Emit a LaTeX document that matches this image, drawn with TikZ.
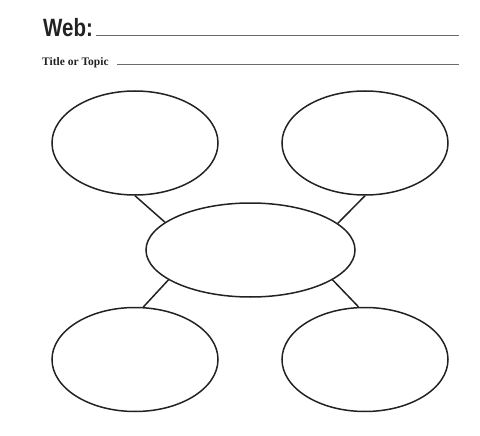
\documentclass[tikz,border=0pt]{standalone}
\usepackage{fontspec}
\setmainfont{Liberation Serif}
\newfontfamily\websans{Liberation Sans}
\usetikzlibrary{shapes.geometric}
\definecolor{ink}{HTML}{222222}
\definecolor{rule}{HTML}{6A6A6A}
\begin{document}
\begin{tikzpicture}[x=1pt,y=-1pt,
  bubble/.style={ellipse,draw=ink,line width=1.5pt,inner sep=0pt,minimum width=166pt,minimum height=104pt},
  hub/.style={ellipse,draw=ink,line width=1.5pt,inner sep=0pt,minimum width=209pt,minimum height=94pt},
  link/.style={draw=ink,line width=1.5pt},
  blank/.style={draw=rule,line width=1.3pt},
  lbl/.style={inner sep=0pt,anchor=base west,text=ink}]
\useasboundingbox (0,0) rectangle (480,436);
\node[lbl] (web) at (43,37) {\scalebox{0.82}[1]{\websans\fontsize{25}{25}\selectfont\bfseries Web:}};
\coordinate (webend) at (459,35.7);
\draw[blank] (web.base east) ++(3,-1.3) coordinate (webstart) -- (webend);
\node[lbl] (title) at (42,66) {\fontsize{11.5}{12}\selectfont\bfseries Title or Topic};
\coordinate (titleend) at (459,64.5);
\coordinate (titlestart) at (117,64.5);
\draw[blank] (titlestart) -- (titleend);
\node[bubble] (tl) at (135,143) {};
\node[bubble] (tr) at (365,143) {};
\node[bubble] (bl) at (135,359.5) {};
\node[bubble] (br) at (365,359.5) {};
\node[hub] (c) at (250.5,250) {};
\draw[link] (tl.south) -- (c.162.6);
\draw[link] (tr.south) -- (c.17.2);
\draw[link] (c.200.7) -- (bl.81);
\draw[link] (c.-20.4) -- (br.97.5);
\end{tikzpicture}
\end{document}
